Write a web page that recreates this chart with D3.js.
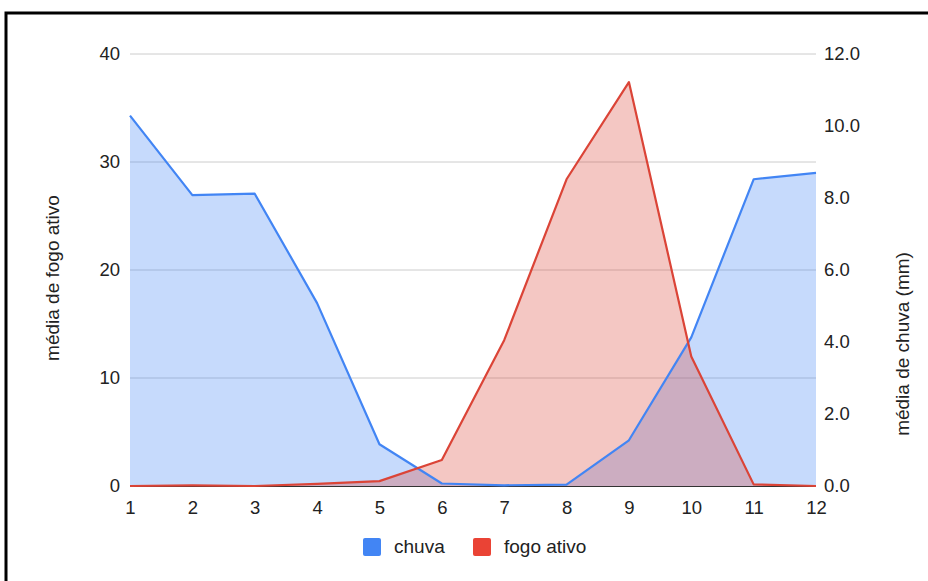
<!DOCTYPE html>
<html>
<head>
<meta charset="utf-8">
<script src="https://cdn.jsdelivr.net/npm/d3@7"></script>
<style>
  html, body { margin: 0; padding: 0; background: #fff; }
  svg { display: block; font-family: "Liberation Sans", Arial, sans-serif; }
</style>
</head>
<body>
<svg id="chart" width="928" height="581"></svg>
<script>
// Monthly averages
const months = [1, 2, 3, 4, 5, 6, 7, 8, 9, 10, 11, 12];
const chuva = [10.29, 8.08, 8.12, 5.08, 1.16, 0.07, 0.02, 0.04, 1.27, 4.13, 8.52, 8.70];
const fogoAtivo = [0.0, 0.05, 0.0, 0.2, 0.45, 2.4, 13.5, 28.4, 37.4, 12.0, 0.15, 0.0];
const leftTicks = [0, 10, 20, 30, 40];
const rightTicks = [0, 2, 4, 6, 8, 10, 12];
const seriesNames = ["chuva", "fogo ativo"];
const colors = ["#4285f4", "#db4437"];
const legendColors = ["#4285f4", "#ea4335"];

const svg = d3.select("#chart");
const W = 928, H = 581;
const plot = { left: 130, right: 816, top: 54, bottom: 486 };
const FONT = "Liberation Sans, Arial, sans-serif";
const tickSize = 18.5;

// outer frame
svg.append("rect")
  .attr("x", 6).attr("y", 13)
  .attr("width", W + 20).attr("height", H + 20)
  .attr("fill", "none").attr("stroke", "#000").attr("stroke-width", 3);

const x = d3.scaleLinear().domain([1, 12]).range([plot.left, plot.right]);
const yL = d3.scaleLinear().domain([0, 40]).range([plot.bottom, plot.top]);
const yR = d3.scaleLinear().domain([0, 12]).range([plot.bottom, plot.top]);

// horizontal gridlines (left axis)
svg.append("g")
  .selectAll("line")
  .data(leftTicks.filter(d => d > 0))
  .join("line")
  .attr("x1", plot.left).attr("x2", plot.right)
  .attr("y1", d => yL(d)).attr("y2", d => yL(d))
  .attr("stroke", "#cccccc").attr("stroke-width", 1);

// left axis labels
const leftAxis = d3.axisLeft(yL).tickValues(leftTicks).tickSize(0).tickPadding(10).tickFormat(d3.format("d"));
svg.append("g")
  .attr("transform", `translate(${plot.left},0)`)
  .call(leftAxis)
  .call(g => g.select(".domain").remove())
  .selectAll("text")
  .attr("font-size", tickSize).attr("fill", "#222").attr("font-family", FONT);

// right axis labels
const rightAxis = d3.axisRight(yR).tickValues(rightTicks).tickSize(0).tickPadding(8).tickFormat(d3.format(".1f"));
svg.append("g")
  .attr("transform", `translate(${plot.right},0)`)
  .call(rightAxis)
  .call(g => g.select(".domain").remove())
  .selectAll("text")
  .attr("font-size", tickSize).attr("fill", "#222").attr("font-family", FONT);

// bottom axis labels
const bottomAxis = d3.axisBottom(x).tickValues(months).tickSize(0).tickPadding(15).tickFormat(d3.format("d"));
svg.append("g")
  .attr("transform", `translate(0,${plot.bottom})`)
  .call(bottomAxis)
  .call(g => g.select(".domain").remove())
  .selectAll("text")
  .attr("font-size", tickSize).attr("fill", "#222").attr("font-family", FONT);

// series: rain on the right axis, fire on the left axis
const series = [
  { values: chuva, y: yR, color: colors[0] },
  { values: fogoAtivo, y: yL, color: colors[1] }
];
const seriesPts = series.map(s => months.map((m, i) => [m, s.values[i]]));

// filled areas first, then the lines on top
series.forEach((s, k) => {
  const area = d3.area().x(d => x(d[0])).y0(plot.bottom).y1(d => s.y(d[1]));
  svg.append("path").datum(seriesPts[k])
    .attr("d", area).attr("fill", s.color).attr("fill-opacity", 0.3);
});

// baseline
svg.append("line")
  .attr("x1", plot.left).attr("x2", plot.right)
  .attr("y1", plot.bottom + 0.5).attr("y2", plot.bottom + 0.5)
  .attr("stroke", "#333").attr("stroke-width", 1.2);

series.forEach((s, k) => {
  const line = d3.line().x(d => x(d[0])).y(d => s.y(d[1]));
  svg.append("path").datum(seriesPts[k])
    .attr("d", line).attr("fill", "none").attr("stroke", s.color)
    .attr("stroke-width", 2.2).attr("stroke-linejoin", "round");
});

// axis titles
svg.append("text")
  .attr("transform", `translate(52,278) rotate(-90)`)
  .attr("text-anchor", "middle")
  .attr("dominant-baseline", "central")
  .attr("font-size", 19).attr("fill", "#222")
  .text("média de fogo ativo");

svg.append("text")
  .attr("transform", `translate(902,344) rotate(-90)`)
  .attr("text-anchor", "middle")
  .attr("dominant-baseline", "central")
  .attr("font-size", 19).attr("fill", "#222")
  .text("média de chuva (mm)");

// legend
const legend = svg.append("g");
const legendItems = [
  { name: seriesNames[0], color: legendColors[0], x: 363 },
  { name: seriesNames[1], color: legendColors[1], x: 473 }
];
legendItems.forEach(it => {
  legend.append("rect")
    .attr("x", it.x).attr("y", 538)
    .attr("width", 18).attr("height", 18)
    .attr("rx", 2)
    .attr("fill", it.color);
  legend.append("text")
    .attr("x", it.x + 31).attr("y", 553)
    .attr("font-size", 19).attr("fill", "#222")
    .text(it.name);
});
</script>
</body>
</html>
